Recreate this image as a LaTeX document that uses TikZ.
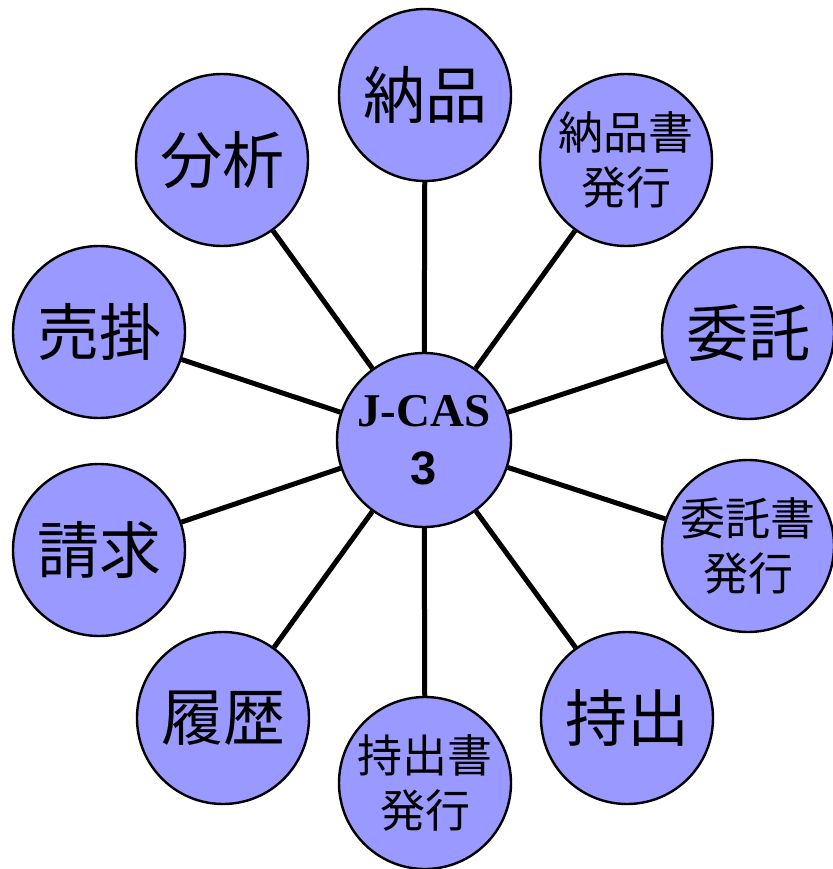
\documentclass[tikz,border=0pt]{standalone}
\usepackage{fontspec}
\newfontfamily\cjk{Noto Sans CJK JP}
\newfontfamily\tms{Liberation Serif}
\newfontfamily\arl{Liberation Sans}
\definecolor{bub}{HTML}{9999FF}
\tikzset{
  bubble/.style={circle, draw=black, line width=2.4pt, fill=bub, minimum size=172pt, inner sep=0pt, align=center, text=black},
  big/.style={bubble, font=\cjk\fontsize{62}{70}\selectfont},
  small/.style={bubble, font=\cjk\fontsize{45}{55}\selectfont},
  spoke/.style={line width=5pt, draw=black}
}
\begin{document}
\begin{tikzpicture}[x=1pt,y=-1pt]
\useasboundingbox (0,0) rectangle (832,869);
\node[bubble, minimum size=174pt, font=\fontsize{47}{58}\selectfont] (c) at (424,440) {{\tms\bfseries J-CAS}\\{\arl\bfseries 3}};
\node[big]   (n1)  at (425,95)  {納品};
\node[small] (n2)  at (626,160) {納品書\\発行};
\node[big]   (n3)  at (748,333) {委託};
\node[small] (n4)  at (748,546) {委託書\\発行};
\node[big]   (n5)  at (627,718) {持出};
\node[small] (n6)  at (425,783) {持出書\\発行};
\node[big]   (n7)  at (223,718) {履歴};
\node[big]   (n8)  at (99,550)  {請求};
\node[big]   (n9)  at (99,332)  {売掛};
\node[big]   (n10) at (222,160) {分析};
\foreach \n in {n1,n2,n3,n4,n5,n6,n7,n8,n9,n10}
  \draw[spoke] (c) -- (\n);
\end{tikzpicture}
\end{document}
